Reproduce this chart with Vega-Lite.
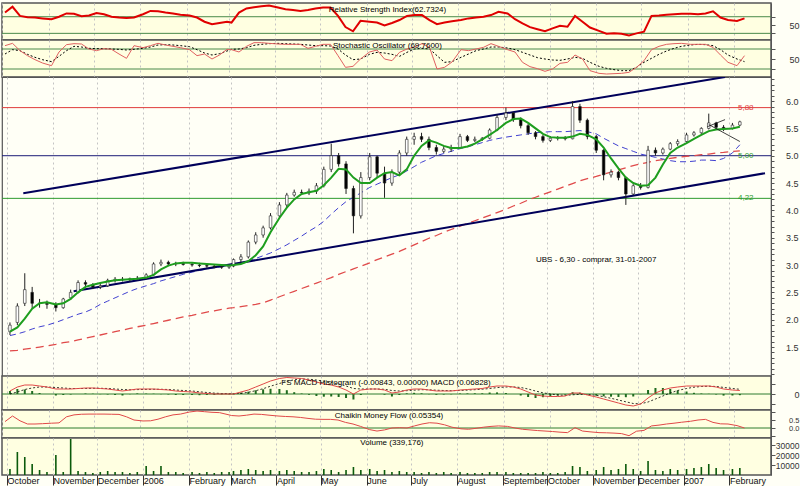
{
"$schema": "https://vega.github.io/schema/vega-lite/v6.json",
"padding": 0,
"background": "#FFFFF6",
"autosize": {"type": "pad"},
"spacing": 0,
"bounds": "flush",
"config": {
  "font": "Liberation Sans",
  "view": {"stroke": "#555555", "strokeWidth": 1.2},
  "axisX": {"grid": true, "gridColor": "#C4C4C4", "gridDash": [2, 3], "gridWidth": 1},
  "axisY": {"domainColor": "#555555", "tickColor": "#555555", "tickSize": 4, "labelAlign": "right", "labelPadding": 24, "labelFontSize": 9, "labelColor": "#333333", "labelFont": "Liberation Sans", "grid": false, "labelOverlap": false, "labelFlush": false, "labelBound": false},
  "text": {"font": "Liberation Sans"}
},
"datasets": {
"px": [
{"date":"2005-10-03","open":1.78,"high":1.95,"low":1.72,"close":1.9,"vol":6000,"ma20":1.78,"ma50":1.71,"ma200":1.43,"rsi":80,"stochK":90,"stochD":65,"macd":0.03,"signal":0,"hist":0.03,"cmf":0.4},
{"date":"2005-10-08","open":1.95,"high":2.3,"low":1.9,"close":2.25,"vol":23000,"ma20":1.86,"ma50":1.74,"ma200":1.44,"rsi":94,"stochK":97,"stochD":78,"macd":0.07,"signal":0.02,"hist":0.05,"cmf":0.75},
{"date":"2005-10-13","open":2.3,"high":2.85,"low":2.25,"close":2.55,"vol":18000,"ma20":2.02,"ma50":1.78,"ma200":1.46,"rsi":72,"stochK":75,"stochD":75,"macd":0.09,"signal":0.045,"hist":0.045,"cmf":0.45},
{"date":"2005-10-18","open":2.5,"high":2.6,"low":2.2,"close":2.3,"vol":11000,"ma20":2.2,"ma50":1.83,"ma200":1.48,"rsi":69,"stochK":60,"stochD":64,"macd":0.09,"signal":0.06,"hist":0.03,"cmf":0.25},
{"date":"2005-10-23","open":2.3,"high":2.38,"low":2.22,"close":2.3,"vol":5000,"ma20":2.3,"ma50":1.87,"ma200":1.5,"rsi":68,"stochK":48,"stochD":55,"macd":0.08,"signal":0.07,"hist":0.01,"cmf":0.25},
{"date":"2005-10-28","open":2.3,"high":2.35,"low":2.2,"close":2.28,"vol":3000,"ma20":2.32,"ma50":1.9,"ma200":1.52,"rsi":66,"stochK":38,"stochD":48,"macd":0.07,"signal":0.07,"hist":0,"cmf":0.27},
{"date":"2005-11-03","open":2.28,"high":2.32,"low":2.15,"close":2.22,"vol":20000,"ma20":2.28,"ma50":1.95,"ma200":1.55,"rsi":64,"stochK":30,"stochD":42,"macd":0.05,"signal":0.065,"hist":-0.015,"cmf":0.3},
{"date":"2005-11-08","open":2.22,"high":2.4,"low":2.2,"close":2.38,"vol":3000,"ma20":2.3,"ma50":2.0,"ma200":1.58,"rsi":70,"stochK":71,"stochD":58,"macd":0.05,"signal":0.06,"hist":-0.01,"cmf":0.32},
{"date":"2005-11-13","open":2.4,"high":2.55,"low":2.36,"close":2.5,"vol":36000,"ma20":2.38,"ma50":2.05,"ma200":1.6,"rsi":78,"stochK":93,"stochD":75,"macd":0.05,"signal":0.055,"hist":-0.005,"cmf":0.7},
{"date":"2005-11-18","open":2.5,"high":2.72,"low":2.48,"close":2.68,"vol":4000,"ma20":2.5,"ma50":2.1,"ma200":1.63,"rsi":77,"stochK":96,"stochD":88,"macd":0.055,"signal":0.055,"hist":0,"cmf":0.82},
{"date":"2005-11-23","open":2.68,"high":2.72,"low":2.6,"close":2.65,"vol":3000,"ma20":2.6,"ma50":2.14,"ma200":1.66,"rsi":71,"stochK":95,"stochD":86,"macd":0.06,"signal":0.055,"hist":0.005,"cmf":0.86},
{"date":"2005-11-28","open":2.64,"high":2.67,"low":2.56,"close":2.6,"vol":2000,"ma20":2.64,"ma50":2.2,"ma200":1.69,"rsi":73,"stochK":80,"stochD":82,"macd":0.06,"signal":0.057,"hist":0.003,"cmf":0.87},
{"date":"2005-12-03","open":2.6,"high":2.66,"low":2.56,"close":2.62,"vol":3000,"ma20":2.67,"ma50":2.28,"ma200":1.72,"rsi":79,"stochK":75,"stochD":81,"macd":0.055,"signal":0.057,"hist":-0.002,"cmf":0.87},
{"date":"2005-12-08","open":2.62,"high":2.75,"low":2.6,"close":2.72,"vol":4000,"ma20":2.7,"ma50":2.34,"ma200":1.75,"rsi":76,"stochK":81,"stochD":81,"macd":0.05,"signal":0.055,"hist":-0.005,"cmf":0.87},
{"date":"2005-12-13","open":2.72,"high":2.78,"low":2.68,"close":2.74,"vol":3000,"ma20":2.72,"ma50":2.4,"ma200":1.78,"rsi":70,"stochK":79,"stochD":80,"macd":0.04,"signal":0.05,"hist":-0.01,"cmf":0.86},
{"date":"2005-12-18","open":2.74,"high":2.78,"low":2.7,"close":2.73,"vol":3000,"ma20":2.73,"ma50":2.46,"ma200":1.81,"rsi":68,"stochK":65,"stochD":79,"macd":0.03,"signal":0.045,"hist":-0.015,"cmf":0.85},
{"date":"2005-12-23","open":2.73,"high":2.77,"low":2.7,"close":2.75,"vol":2000,"ma20":2.74,"ma50":2.52,"ma200":1.84,"rsi":67,"stochK":52,"stochD":77,"macd":0.04,"signal":0.042,"hist":-0.002,"cmf":0.7},
{"date":"2005-12-28","open":2.75,"high":2.8,"low":2.72,"close":2.76,"vol":3000,"ma20":2.75,"ma50":2.57,"ma200":1.87,"rsi":68,"stochK":90,"stochD":79,"macd":0.05,"signal":0.044,"hist":0.006,"cmf":0.5},
{"date":"2006-01-03","open":2.76,"high":2.85,"low":2.74,"close":2.82,"vol":9000,"ma20":2.77,"ma50":2.62,"ma200":1.9,"rsi":76,"stochK":84,"stochD":82,"macd":0.05,"signal":0.046,"hist":0.004,"cmf":0.44},
{"date":"2006-01-08","open":2.82,"high":3.05,"low":2.8,"close":3.02,"vol":4000,"ma20":2.82,"ma50":2.66,"ma200":1.93,"rsi":84,"stochK":90,"stochD":86,"macd":0.05,"signal":0.047,"hist":0.003,"cmf":0.45},
{"date":"2006-01-13","open":3.02,"high":3.1,"low":2.98,"close":3.05,"vol":9000,"ma20":2.92,"ma50":2.71,"ma200":1.96,"rsi":83,"stochK":97,"stochD":92,"macd":0.045,"signal":0.047,"hist":-0.002,"cmf":0.55},
{"date":"2006-01-18","open":3.05,"high":3.08,"low":2.98,"close":3.02,"vol":3000,"ma20":2.99,"ma50":2.75,"ma200":1.99,"rsi":80,"stochK":92,"stochD":93,"macd":0.04,"signal":0.045,"hist":-0.005,"cmf":0.7},
{"date":"2006-01-23","open":3.02,"high":3.06,"low":2.98,"close":3.03,"vol":3000,"ma20":3.03,"ma50":2.79,"ma200":2.02,"rsi":78,"stochK":88,"stochD":92,"macd":0.03,"signal":0.04,"hist":-0.01,"cmf":0.82},
{"date":"2006-01-28","open":3.03,"high":3.06,"low":2.99,"close":3.01,"vol":2000,"ma20":3.04,"ma50":2.83,"ma200":2.05,"rsi":75,"stochK":84,"stochD":90,"macd":0.025,"signal":0.035,"hist":-0.01,"cmf":0.87},
{"date":"2006-02-03","open":3.01,"high":3.05,"low":2.97,"close":3.0,"vol":3000,"ma20":3.04,"ma50":2.87,"ma200":2.08,"rsi":73,"stochK":78,"stochD":87,"macd":0.02,"signal":0.03,"hist":-0.01,"cmf":1.0},
{"date":"2006-02-08","open":3.0,"high":3.04,"low":2.96,"close":2.99,"vol":2000,"ma20":3.03,"ma50":2.9,"ma200":2.11,"rsi":68,"stochK":60,"stochD":78,"macd":0.01,"signal":0.022,"hist":-0.012,"cmf":1.06},
{"date":"2006-02-13","open":2.99,"high":3.02,"low":2.95,"close":2.98,"vol":3000,"ma20":3.02,"ma50":2.93,"ma200":2.14,"rsi":58,"stochK":65,"stochD":68,"macd":0.005,"signal":0.015,"hist":-0.01,"cmf":1.02},
{"date":"2006-02-18","open":2.98,"high":3.01,"low":2.94,"close":2.97,"vol":2000,"ma20":3.01,"ma50":2.95,"ma200":2.16,"rsi":52,"stochK":50,"stochD":62,"macd":0,"signal":0.009,"hist":-0.009,"cmf":0.98},
{"date":"2006-02-23","open":2.97,"high":3.0,"low":2.93,"close":2.96,"vol":3000,"ma20":3.0,"ma50":2.97,"ma200":2.19,"rsi":55,"stochK":62,"stochD":66,"macd":0,"signal":0.005,"hist":-0.005,"cmf":0.96},
{"date":"2006-02-28","open":2.96,"high":3.0,"low":2.93,"close":2.98,"vol":3000,"ma20":2.99,"ma50":2.99,"ma200":2.21,"rsi":58,"stochK":79,"stochD":74,"macd":0,"signal":0.003,"hist":-0.003,"cmf":0.85},
{"date":"2006-03-03","open":2.98,"high":3.12,"low":2.96,"close":3.1,"vol":4000,"ma20":3.0,"ma50":3.0,"ma200":2.22,"rsi":56,"stochK":78,"stochD":79,"macd":0,"signal":0.002,"hist":-0.002,"cmf":0.78},
{"date":"2006-03-08","open":3.1,"high":3.2,"low":3.05,"close":3.15,"vol":5000,"ma20":3.02,"ma50":3.03,"ma200":2.24,"rsi":80,"stochK":71,"stochD":80,"macd":0.02,"signal":0.007,"hist":0.013,"cmf":0.75},
{"date":"2006-03-13","open":3.15,"high":3.45,"low":3.12,"close":3.42,"vol":6000,"ma20":3.07,"ma50":3.07,"ma200":2.26,"rsi":90,"stochK":88,"stochD":84,"macd":0.04,"signal":0.017,"hist":0.023,"cmf":0.8},
{"date":"2006-03-18","open":3.42,"high":3.6,"low":3.38,"close":3.55,"vol":5000,"ma20":3.18,"ma50":3.12,"ma200":2.28,"rsi":93,"stochK":99,"stochD":91,"macd":0.07,"signal":0.033,"hist":0.037,"cmf":0.87},
{"date":"2006-03-23","open":3.55,"high":3.72,"low":3.5,"close":3.68,"vol":4000,"ma20":3.34,"ma50":3.17,"ma200":2.31,"rsi":95,"stochK":99,"stochD":94,"macd":0.1,"signal":0.053,"hist":0.047,"cmf":0.85},
{"date":"2006-03-28","open":3.68,"high":3.95,"low":3.65,"close":3.9,"vol":5000,"ma20":3.6,"ma50":3.22,"ma200":2.36,"rsi":97,"stochK":97,"stochD":96,"macd":0.13,"signal":0.078,"hist":0.052,"cmf":0.8},
{"date":"2006-04-03","open":3.9,"high":4.15,"low":3.85,"close":4.1,"vol":4000,"ma20":3.86,"ma50":3.3,"ma200":2.42,"rsi":92,"stochK":95,"stochD":97,"macd":0.155,"signal":0.105,"hist":0.05,"cmf":0.75},
{"date":"2006-04-08","open":4.1,"high":4.32,"low":4.05,"close":4.28,"vol":5000,"ma20":4.05,"ma50":3.37,"ma200":2.47,"rsi":88,"stochK":94,"stochD":96,"macd":0.165,"signal":0.127,"hist":0.038,"cmf":0.72},
{"date":"2006-04-13","open":4.28,"high":4.38,"low":4.25,"close":4.33,"vol":4000,"ma20":4.2,"ma50":3.45,"ma200":2.52,"rsi":86,"stochK":94,"stochD":95,"macd":0.16,"signal":0.142,"hist":0.018,"cmf":0.7},
{"date":"2006-04-18","open":4.33,"high":4.38,"low":4.28,"close":4.32,"vol":3000,"ma20":4.3,"ma50":3.53,"ma200":2.57,"rsi":84,"stochK":94,"stochD":94,"macd":0.155,"signal":0.15,"hist":0.005,"cmf":0.66},
{"date":"2006-04-23","open":4.32,"high":4.4,"low":4.28,"close":4.35,"vol":3000,"ma20":4.33,"ma50":3.62,"ma200":2.62,"rsi":86,"stochK":82,"stochD":92,"macd":0.14,"signal":0.148,"hist":-0.008,"cmf":0.6},
{"date":"2006-04-28","open":4.35,"high":4.5,"low":4.3,"close":4.45,"vol":4000,"ma20":4.36,"ma50":3.7,"ma200":2.67,"rsi":90,"stochK":88,"stochD":90,"macd":0.12,"signal":0.14,"hist":-0.02,"cmf":0.55},
{"date":"2006-05-03","open":4.45,"high":4.8,"low":4.42,"close":4.75,"vol":6000,"ma20":4.46,"ma50":3.8,"ma200":2.72,"rsi":92,"stochK":94,"stochD":90,"macd":0.1,"signal":0.127,"hist":-0.027,"cmf":0.54},
{"date":"2006-05-08","open":4.75,"high":5.22,"low":4.7,"close":5.0,"vol":5000,"ma20":4.6,"ma50":3.93,"ma200":2.77,"rsi":92,"stochK":94,"stochD":89,"macd":0.09,"signal":0.115,"hist":-0.025,"cmf":0.54},
{"date":"2006-05-13","open":5.0,"high":5.05,"low":4.8,"close":4.85,"vol":3000,"ma20":4.76,"ma50":4.05,"ma200":2.83,"rsi":72,"stochK":60,"stochD":80,"macd":0.07,"signal":0.1,"hist":-0.03,"cmf":0.5},
{"date":"2006-05-18","open":4.85,"high":4.9,"low":4.3,"close":4.4,"vol":5000,"ma20":4.75,"ma50":4.16,"ma200":2.88,"rsi":45,"stochK":25,"stochD":62,"macd":0.04,"signal":0.08,"hist":-0.04,"cmf":0.35},
{"date":"2006-05-23","open":4.4,"high":4.45,"low":3.58,"close":3.9,"vol":8000,"ma20":4.6,"ma50":4.24,"ma200":2.93,"rsi":35,"stochK":28,"stochD":48,"macd":0,"signal":0.055,"hist":-0.055,"cmf":0.25},
{"date":"2006-05-28","open":3.9,"high":4.7,"low":3.85,"close":4.6,"vol":5000,"ma20":4.5,"ma50":4.32,"ma200":2.98,"rsi":60,"stochK":50,"stochD":50,"macd":0.04,"signal":0.05,"hist":-0.01,"cmf":0.1},
{"date":"2006-06-03","open":4.6,"high":5.05,"low":4.55,"close":4.98,"vol":6000,"ma20":4.5,"ma50":4.42,"ma200":3.04,"rsi":58,"stochK":71,"stochD":64,"macd":0.05,"signal":0.05,"hist":0,"cmf":-0.1},
{"date":"2006-06-08","open":4.98,"high":5.0,"low":4.6,"close":4.68,"vol":4000,"ma20":4.6,"ma50":4.48,"ma200":3.1,"rsi":56,"stochK":77,"stochD":70,"macd":0.05,"signal":0.05,"hist":0,"cmf":-0.19},
{"date":"2006-06-13","open":4.68,"high":4.8,"low":4.23,"close":4.5,"vol":5000,"ma20":4.68,"ma50":4.54,"ma200":3.15,"rsi":49,"stochK":50,"stochD":68,"macd":0.04,"signal":0.047,"hist":-0.007,"cmf":-0.12},
{"date":"2006-06-18","open":4.5,"high":4.75,"low":4.45,"close":4.7,"vol":3000,"ma20":4.7,"ma50":4.6,"ma200":3.2,"rsi":55,"stochK":45,"stochD":64,"macd":0.01,"signal":0.035,"hist":-0.025,"cmf":0},
{"date":"2006-06-23","open":4.7,"high":5.1,"low":4.65,"close":5.05,"vol":4000,"ma20":4.64,"ma50":4.65,"ma200":3.25,"rsi":62,"stochK":70,"stochD":58,"macd":0.02,"signal":0.03,"hist":-0.01,"cmf":0.02},
{"date":"2006-06-28","open":5.05,"high":5.35,"low":5.0,"close":5.3,"vol":3000,"ma20":4.75,"ma50":4.72,"ma200":3.31,"rsi":72,"stochK":80,"stochD":70,"macd":0.04,"signal":0.033,"hist":0.007,"cmf":0},
{"date":"2006-07-03","open":5.3,"high":5.42,"low":5.2,"close":5.35,"vol":3000,"ma20":5.0,"ma50":4.8,"ma200":3.37,"rsi":74,"stochK":86,"stochD":80,"macd":0.05,"signal":0.038,"hist":0.012,"cmf":0.13},
{"date":"2006-07-08","open":5.35,"high":5.42,"low":5.25,"close":5.3,"vol":2000,"ma20":5.18,"ma50":4.88,"ma200":3.43,"rsi":74,"stochK":96,"stochD":82,"macd":0.05,"signal":0.043,"hist":0.007,"cmf":0.25},
{"date":"2006-07-13","open":5.3,"high":5.35,"low":5.1,"close":5.15,"vol":3000,"ma20":5.28,"ma50":4.94,"ma200":3.49,"rsi":62,"stochK":85,"stochD":80,"macd":0.04,"signal":0.042,"hist":-0.002,"cmf":0.33},
{"date":"2006-07-18","open":5.15,"high":5.2,"low":5.02,"close":5.08,"vol":2000,"ma20":5.24,"ma50":5.0,"ma200":3.54,"rsi":52,"stochK":20,"stochD":60,"macd":0.03,"signal":0.038,"hist":-0.008,"cmf":0.3},
{"date":"2006-07-23","open":5.08,"high":5.18,"low":5.05,"close":5.12,"vol":3000,"ma20":5.18,"ma50":5.04,"ma200":3.6,"rsi":56,"stochK":25,"stochD":40,"macd":0.03,"signal":0.035,"hist":-0.005,"cmf":0.2},
{"date":"2006-07-28","open":5.12,"high":5.2,"low":5.07,"close":5.15,"vol":2000,"ma20":5.14,"ma50":5.08,"ma200":3.65,"rsi":59,"stochK":41,"stochD":42,"macd":0.03,"signal":0.033,"hist":-0.003,"cmf":0.05},
{"date":"2006-08-03","open":5.15,"high":5.4,"low":5.12,"close":5.35,"vol":3000,"ma20":5.14,"ma50":5.13,"ma200":3.71,"rsi":62,"stochK":78,"stochD":55,"macd":0.04,"signal":0.035,"hist":0.005,"cmf":-0.05},
{"date":"2006-08-08","open":5.35,"high":5.38,"low":5.25,"close":5.28,"vol":2000,"ma20":5.17,"ma50":5.16,"ma200":3.76,"rsi":66,"stochK":75,"stochD":65,"macd":0.045,"signal":0.039,"hist":0.006,"cmf":-0.08},
{"date":"2006-08-13","open":5.28,"high":5.35,"low":5.25,"close":5.3,"vol":2000,"ma20":5.22,"ma50":5.2,"ma200":3.81,"rsi":68,"stochK":80,"stochD":75,"macd":0.05,"signal":0.043,"hist":0.007,"cmf":-0.02},
{"date":"2006-08-18","open":5.3,"high":5.34,"low":5.27,"close":5.32,"vol":2000,"ma20":5.3,"ma50":5.24,"ma200":3.86,"rsi":70,"stochK":85,"stochD":80,"macd":0.055,"signal":0.048,"hist":0.007,"cmf":0.05},
{"date":"2006-08-23","open":5.32,"high":5.5,"low":5.3,"close":5.47,"vol":3000,"ma20":5.38,"ma50":5.28,"ma200":3.91,"rsi":74,"stochK":96,"stochD":86,"macd":0.07,"signal":0.055,"hist":0.015,"cmf":0.1},
{"date":"2006-08-28","open":5.47,"high":5.75,"low":5.45,"close":5.7,"vol":3000,"ma20":5.47,"ma50":5.31,"ma200":3.96,"rsi":82,"stochK":88,"stochD":86,"macd":0.08,"signal":0.064,"hist":0.016,"cmf":0.13},
{"date":"2006-09-03","open":5.7,"high":5.88,"low":5.65,"close":5.78,"vol":3000,"ma20":5.6,"ma50":5.34,"ma200":4.02,"rsi":78,"stochK":78,"stochD":83,"macd":0.08,"signal":0.07,"hist":0.01,"cmf":0.1},
{"date":"2006-09-08","open":5.78,"high":5.8,"low":5.62,"close":5.66,"vol":2000,"ma20":5.67,"ma50":5.36,"ma200":4.08,"rsi":64,"stochK":71,"stochD":78,"macd":0.07,"signal":0.071,"hist":-0.001,"cmf":0},
{"date":"2006-09-13","open":5.66,"high":5.7,"low":5.5,"close":5.55,"vol":2000,"ma20":5.68,"ma50":5.38,"ma200":4.13,"rsi":54,"stochK":40,"stochD":70,"macd":0.05,"signal":0.065,"hist":-0.015,"cmf":-0.08},
{"date":"2006-09-18","open":5.55,"high":5.58,"low":5.38,"close":5.42,"vol":2000,"ma20":5.6,"ma50":5.4,"ma200":4.19,"rsi":45,"stochK":27,"stochD":62,"macd":0.02,"signal":0.05,"hist":-0.03,"cmf":-0.12},
{"date":"2006-09-23","open":5.42,"high":5.45,"low":5.3,"close":5.35,"vol":2000,"ma20":5.5,"ma50":5.42,"ma200":4.24,"rsi":40,"stochK":21,"stochD":54,"macd":-0.01,"signal":0.03,"hist":-0.04,"cmf":-0.16},
{"date":"2006-09-28","open":5.35,"high":5.38,"low":5.24,"close":5.28,"vol":3000,"ma20":5.4,"ma50":5.43,"ma200":4.29,"rsi":35,"stochK":13,"stochD":50,"macd":-0.02,"signal":0.012,"hist":-0.032,"cmf":-0.19},
{"date":"2006-10-03","open":5.28,"high":5.36,"low":5.25,"close":5.32,"vol":2000,"ma20":5.34,"ma50":5.44,"ma200":4.34,"rsi":42,"stochK":20,"stochD":47,"macd":-0.025,"signal":0,"hist":-0.025,"cmf":-0.22},
{"date":"2006-10-08","open":5.32,"high":5.36,"low":5.28,"close":5.33,"vol":2000,"ma20":5.33,"ma50":5.44,"ma200":4.39,"rsi":48,"stochK":37,"stochD":46,"macd":-0.025,"signal":-0.01,"hist":-0.015,"cmf":-0.26},
{"date":"2006-10-13","open":5.33,"high":5.36,"low":5.28,"close":5.31,"vol":3000,"ma20":5.33,"ma50":5.44,"ma200":4.44,"rsi":46,"stochK":40,"stochD":50,"macd":-0.02,"signal":-0.014,"hist":-0.006,"cmf":-0.29},
{"date":"2006-10-18","open":5.31,"high":6.0,"low":5.3,"close":5.9,"vol":9000,"ma20":5.35,"ma50":5.45,"ma200":4.49,"rsi":72,"stochK":62,"stochD":55,"macd":0.01,"signal":-0.008,"hist":0.018,"cmf":0.02},
{"date":"2006-10-23","open":5.9,"high":5.95,"low":5.6,"close":5.65,"vol":8000,"ma20":5.4,"ma50":5.46,"ma200":4.54,"rsi":58,"stochK":50,"stochD":52,"macd":0.01,"signal":-0.003,"hist":0.013,"cmf":-0.19},
{"date":"2006-10-28","open":5.65,"high":5.68,"low":5.3,"close":5.35,"vol":4000,"ma20":5.38,"ma50":5.44,"ma200":4.58,"rsi":44,"stochK":15,"stochD":40,"macd":-0.01,"signal":-0.005,"hist":-0.005,"cmf":-0.24},
{"date":"2006-11-03","open":5.35,"high":5.38,"low":5.05,"close":5.1,"vol":5000,"ma20":5.3,"ma50":5.4,"ma200":4.62,"rsi":36,"stochK":7,"stochD":28,"macd":-0.03,"signal":-0.013,"hist":-0.017,"cmf":-0.29},
{"date":"2006-11-08","open":5.1,"high":5.12,"low":4.55,"close":4.65,"vol":8000,"ma20":5.15,"ma50":5.32,"ma200":4.66,"rsi":29,"stochK":5,"stochD":22,"macd":-0.05,"signal":-0.027,"hist":-0.023,"cmf":-0.3},
{"date":"2006-11-13","open":4.65,"high":4.75,"low":4.6,"close":4.7,"vol":5000,"ma20":4.95,"ma50":5.25,"ma200":4.7,"rsi":30,"stochK":6,"stochD":18,"macd":-0.07,"signal":-0.043,"hist":-0.027,"cmf":-0.32},
{"date":"2006-11-18","open":4.7,"high":4.72,"low":4.55,"close":4.6,"vol":6000,"ma20":4.77,"ma50":5.18,"ma200":4.74,"rsi":29,"stochK":7,"stochD":15,"macd":-0.09,"signal":-0.06,"hist":-0.03,"cmf":-0.35},
{"date":"2006-11-23","open":4.6,"high":4.62,"low":4.1,"close":4.3,"vol":11000,"ma20":4.6,"ma50":5.13,"ma200":4.78,"rsi":25,"stochK":10,"stochD":15,"macd":-0.11,"signal":-0.078,"hist":-0.032,"cmf":-0.48},
{"date":"2006-11-28","open":4.3,"high":4.48,"low":4.28,"close":4.45,"vol":6000,"ma20":4.5,"ma50":5.08,"ma200":4.82,"rsi":30,"stochK":25,"stochD":25,"macd":-0.12,"signal":-0.095,"hist":-0.025,"cmf":-0.2},
{"date":"2006-12-03","open":4.45,"high":4.5,"low":4.38,"close":4.42,"vol":4000,"ma20":4.45,"ma50":5.03,"ma200":4.85,"rsi":34,"stochK":45,"stochD":40,"macd":-0.1,"signal":-0.098,"hist":-0.002,"cmf":-0.15},
{"date":"2006-12-08","open":4.42,"high":5.18,"low":4.4,"close":5.1,"vol":14000,"ma20":4.46,"ma50":5.0,"ma200":4.88,"rsi":72,"stochK":78,"stochD":52,"macd":-0.04,"signal":-0.08,"hist":0.04,"cmf":0.13},
{"date":"2006-12-13","open":5.1,"high":5.15,"low":5.0,"close":5.05,"vol":5000,"ma20":4.6,"ma50":4.97,"ma200":4.91,"rsi":73,"stochK":88,"stochD":64,"macd":0.01,"signal":-0.05,"hist":0.06,"cmf":0.18},
{"date":"2006-12-18","open":5.05,"high":5.15,"low":5.02,"close":5.12,"vol":4000,"ma20":4.84,"ma50":4.94,"ma200":4.93,"rsi":75,"stochK":94,"stochD":74,"macd":0.04,"signal":-0.02,"hist":0.06,"cmf":0.25},
{"date":"2006-12-23","open":5.12,"high":5.25,"low":5.1,"close":5.22,"vol":6000,"ma20":5.05,"ma50":4.91,"ma200":4.95,"rsi":76,"stochK":96,"stochD":82,"macd":0.06,"signal":0.01,"hist":0.05,"cmf":0.3},
{"date":"2006-12-28","open":5.22,"high":5.3,"low":5.18,"close":5.26,"vol":5000,"ma20":5.15,"ma50":4.89,"ma200":4.97,"rsi":77,"stochK":97,"stochD":88,"macd":0.07,"signal":0.035,"hist":0.035,"cmf":0.36},
{"date":"2007-01-03","open":5.26,"high":5.42,"low":5.24,"close":5.38,"vol":6000,"ma20":5.23,"ma50":4.89,"ma200":4.99,"rsi":77,"stochK":94,"stochD":92,"macd":0.08,"signal":0.055,"hist":0.025,"cmf":0.42},
{"date":"2007-01-08","open":5.38,"high":5.45,"low":5.35,"close":5.42,"vol":7000,"ma20":5.31,"ma50":4.9,"ma200":5.0,"rsi":76,"stochK":94,"stochD":94,"macd":0.08,"signal":0.068,"hist":0.012,"cmf":0.5},
{"date":"2007-01-13","open":5.42,"high":5.52,"low":5.4,"close":5.5,"vol":8000,"ma20":5.38,"ma50":4.92,"ma200":5.02,"rsi":78,"stochK":94,"stochD":93,"macd":0.08,"signal":0.075,"hist":0.005,"cmf":0.54},
{"date":"2007-01-18","open":5.5,"high":5.77,"low":5.48,"close":5.6,"vol":11000,"ma20":5.45,"ma50":4.92,"ma200":5.03,"rsi":83,"stochK":85,"stochD":90,"macd":0.08,"signal":0.078,"hist":0.002,"cmf":0.35},
{"date":"2007-01-23","open":5.6,"high":5.62,"low":5.48,"close":5.52,"vol":7000,"ma20":5.48,"ma50":4.91,"ma200":5.05,"rsi":68,"stochK":62,"stochD":78,"macd":0.07,"signal":0.075,"hist":-0.005,"cmf":0.26},
{"date":"2007-01-28","open":5.52,"high":5.56,"low":5.45,"close":5.5,"vol":5000,"ma20":5.49,"ma50":4.95,"ma200":5.06,"rsi":62,"stochK":40,"stochD":62,"macd":0.05,"signal":0.066,"hist":-0.016,"cmf":0.25},
{"date":"2007-02-03","open":5.5,"high":5.6,"low":5.48,"close":5.56,"vol":6000,"ma20":5.5,"ma50":5.05,"ma200":5.08,"rsi":60,"stochK":30,"stochD":50,"macd":0.04,"signal":0.055,"hist":-0.015,"cmf":0.15},
{"date":"2007-02-08","open":5.56,"high":5.64,"low":5.54,"close":5.62,"vol":7000,"ma20":5.53,"ma50":5.2,"ma200":5.09,"rsi":66,"stochK":60,"stochD":42,"macd":0.035,"signal":0.047,"hist":-0.012,"cmf":0}
],
"channel": [
{"line":"upper","date":"2005-10-12","price":4.315},
{"line":"upper","date":"2007-01-29","price":6.44},
{"line":"lower","date":"2005-11-15","price":2.52},
{"line":"lower","date":"2007-02-25","price":4.68}
],
"fan": [
{"line":"f1","date":"2007-01-17","price":5.53},
{"line":"f1","date":"2007-01-29","price":5.66},
{"line":"f2","date":"2007-01-18","price":5.57},
{"line":"f2","date":"2007-02-08","price":5.26}
]
},
"vconcat": [
{
 "width": 769, "height": 37,
 "view": {"fill": "#FFFFE1", "stroke": "#555555", "strokeWidth": 1.5},
 "layer": [
  {"data": {"values": [{"level": 70}, {"level": 30}]}, "mark": {"type": "rule", "color": "#4A8A4A", "strokeWidth": 1},
   "encoding": {"y": {"field": "level", "type": "quantitative", "scale": {"domain": [14, 103]}}}},
  {"data": {"name": "px"}, "mark": {"type": "line", "color": "#E00000", "strokeWidth": 2},
   "encoding": {
    "x": {"field": "date", "type": "temporal", "scale": {"type": "utc", "nice": false, "domain": [{"year": 2005, "month": 10, "date": 1, "utc": true}, {"year": 2007, "month": 2, "date": 25, "hours": 16, "utc": true}]},
          "axis": {"labels": false, "ticks": false, "domain": false, "title": null, "tickCount": 100,
                   "values": [{"year":2005,"month":10,"date":1,"utc":true},{"year":2005,"month":11,"date":1,"utc":true},{"year":2005,"month":12,"date":1,"utc":true},{"year":2006,"month":1,"date":1,"utc":true},{"year":2006,"month":2,"date":1,"utc":true},{"year":2006,"month":3,"date":1,"utc":true},{"year":2006,"month":4,"date":1,"utc":true},{"year":2006,"month":5,"date":1,"utc":true},{"year":2006,"month":6,"date":1,"utc":true},{"year":2006,"month":7,"date":1,"utc":true},{"year":2006,"month":8,"date":1,"utc":true},{"year":2006,"month":9,"date":1,"utc":true},{"year":2006,"month":10,"date":1,"utc":true},{"year":2006,"month":11,"date":1,"utc":true},{"year":2006,"month":12,"date":1,"utc":true},{"year":2007,"month":1,"date":1,"utc":true},{"year":2007,"month":2,"date":1,"utc":true}]}},
    "y": {"field": "rsi", "type": "quantitative", "scale": {"domain": [14, 103]},
          "axis": {"orient": "right", "title": null, "tickCount": 100, "labelOverlap": false, "values": [30, 50, 70], "labelExpr": "datum.value == 50 ? '50' : ''"}}}},
  {"data": {"values": [{"title": "Relative Strength Index(62.7324)"}]}, "mark": {"type": "text", "fontSize": 8, "color": "#000000"},
   "encoding": {"text": {"field": "title"},
    "x": {"datum": {"year": 2006, "month": 6, "date": 15, "utc": true}, "type": "temporal", "scale": {"type": "utc", "nice": false, "domain": [{"year": 2005, "month": 10, "date": 1, "utc": true}, {"year": 2007, "month": 2, "date": 25, "hours": 16, "utc": true}]}},
    "y": {"datum": 87, "type": "quantitative", "scale": {"domain": [14, 103]}}}}
 ]
},
{
 "width": 769, "height": 37,
 "view": {"fill": "#FFFFE1", "stroke": "#555555", "strokeWidth": 1.5},
 "layer": [
  {"data": {"values": [{"level": 80}, {"level": 20}]}, "mark": {"type": "rule", "color": "#4A8A4A", "strokeWidth": 1},
   "encoding": {"y": {"field": "level", "type": "quantitative", "scale": {"domain": [-4, 107]}}}},
  {"data": {"name": "px"}, "mark": {"type": "line", "color": "#000000", "strokeWidth": 1, "strokeDash": [2, 2]},
   "encoding": {
    "x": {"field": "date", "type": "temporal", "scale": {"type": "utc", "nice": false, "domain": [{"year": 2005, "month": 10, "date": 1, "utc": true}, {"year": 2007, "month": 2, "date": 25, "hours": 16, "utc": true}]},
          "axis": {"labels": false, "ticks": false, "domain": false, "title": null, "tickCount": 100,
                   "values": [{"year":2005,"month":10,"date":1,"utc":true},{"year":2005,"month":11,"date":1,"utc":true},{"year":2005,"month":12,"date":1,"utc":true},{"year":2006,"month":1,"date":1,"utc":true},{"year":2006,"month":2,"date":1,"utc":true},{"year":2006,"month":3,"date":1,"utc":true},{"year":2006,"month":4,"date":1,"utc":true},{"year":2006,"month":5,"date":1,"utc":true},{"year":2006,"month":6,"date":1,"utc":true},{"year":2006,"month":7,"date":1,"utc":true},{"year":2006,"month":8,"date":1,"utc":true},{"year":2006,"month":9,"date":1,"utc":true},{"year":2006,"month":10,"date":1,"utc":true},{"year":2006,"month":11,"date":1,"utc":true},{"year":2006,"month":12,"date":1,"utc":true},{"year":2007,"month":1,"date":1,"utc":true},{"year":2007,"month":2,"date":1,"utc":true}]}},
    "y": {"field": "stochD", "type": "quantitative", "scale": {"domain": [-4, 107]},
          "axis": {"orient": "right", "title": null, "tickCount": 100, "labelOverlap": false, "values": [20, 50, 80], "labelExpr": "datum.value == 50 ? '50' : ''"}}}},
  {"data": {"name": "px"}, "mark": {"type": "line", "color": "#E06060", "strokeWidth": 1},
   "encoding": {
    "x": {"field": "date", "type": "temporal", "scale": {"type": "utc", "nice": false, "domain": [{"year": 2005, "month": 10, "date": 1, "utc": true}, {"year": 2007, "month": 2, "date": 25, "hours": 16, "utc": true}]}},
    "y": {"field": "stochK", "type": "quantitative", "scale": {"domain": [-4, 107]}}}},
  {"data": {"values": [{"title": "Stochastic Oscillator (69.7600)"}]}, "mark": {"type": "text", "fontSize": 8, "color": "#000000"},
   "encoding": {"text": {"field": "title"},
    "x": {"datum": {"year": 2006, "month": 6, "date": 15, "utc": true}, "type": "temporal", "scale": {"type": "utc", "nice": false, "domain": [{"year": 2005, "month": 10, "date": 1, "utc": true}, {"year": 2007, "month": 2, "date": 25, "hours": 16, "utc": true}]}},
    "y": {"datum": 90, "type": "quantitative", "scale": {"domain": [-4, 107]}}}}
 ]
},
{
 "width": 769, "height": 299,
 "view": {"fill": "#FFFFF6", "stroke": "#555555", "strokeWidth": 1.2},
 "layer": [
  {"data": {"values": [{"level": 5.88, "label": "5,88"}]},
   "layer": [
    {"mark": {"type": "rule", "color": "#E03C3C", "strokeWidth": 1},
     "encoding": {"y": {"field": "level", "type": "quantitative", "scale": {"domain": [0.97, 6.44]}}}},
    {"mark": {"type": "text", "fontSize": 8, "color": "#E03C3C"},
     "encoding": {"text": {"field": "label"},
      "x": {"datum": {"year": 2007, "month": 2, "date": 12, "utc": true}, "type": "temporal", "scale": {"type": "utc", "nice": false, "domain": [{"year": 2005, "month": 10, "date": 1, "utc": true}, {"year": 2007, "month": 2, "date": 25, "hours": 16, "utc": true}]}},
      "y": {"field": "level", "type": "quantitative", "scale": {"domain": [0.97, 6.44]}}}}
   ]},
  {"data": {"values": [{"level": 5.0, "label": "5,00"}]},
   "layer": [
    {"mark": {"type": "rule", "color": "#1C1C78", "strokeWidth": 1},
     "encoding": {"y": {"field": "level", "type": "quantitative", "scale": {"domain": [0.97, 6.44]}}}},
    {"mark": {"type": "text", "fontSize": 8, "color": "#2E9B2E"},
     "encoding": {"text": {"field": "label"},
      "x": {"datum": {"year": 2007, "month": 2, "date": 12, "utc": true}, "type": "temporal", "scale": {"type": "utc", "nice": false, "domain": [{"year": 2005, "month": 10, "date": 1, "utc": true}, {"year": 2007, "month": 2, "date": 25, "hours": 16, "utc": true}]}},
      "y": {"field": "level", "type": "quantitative", "scale": {"domain": [0.97, 6.44]}}}}
   ]},
  {"data": {"values": [{"level": 4.22, "label": "4,22"}]},
   "layer": [
    {"mark": {"type": "rule", "color": "#2E9B2E", "strokeWidth": 1},
     "encoding": {"y": {"field": "level", "type": "quantitative", "scale": {"domain": [0.97, 6.44]}}}},
    {"mark": {"type": "text", "fontSize": 8, "color": "#2E9B2E"},
     "encoding": {"text": {"field": "label"},
      "x": {"datum": {"year": 2007, "month": 2, "date": 12, "utc": true}, "type": "temporal", "scale": {"type": "utc", "nice": false, "domain": [{"year": 2005, "month": 10, "date": 1, "utc": true}, {"year": 2007, "month": 2, "date": 25, "hours": 16, "utc": true}]}},
      "y": {"field": "level", "type": "quantitative", "scale": {"domain": [0.97, 6.44]}}}}
   ]},
  {"data": {"name": "px"}, "mark": {"type": "line", "color": "#E04A4A", "strokeWidth": 1.3, "strokeDash": [8, 5]},
   "encoding": {
    "x": {"field": "date", "type": "temporal", "scale": {"type": "utc", "nice": false, "domain": [{"year": 2005, "month": 10, "date": 1, "utc": true}, {"year": 2007, "month": 2, "date": 25, "hours": 16, "utc": true}]},
          "axis": {"labels": false, "ticks": false, "domain": false, "title": null, "tickCount": 100,
                   "values": [{"year":2005,"month":10,"date":1,"utc":true},{"year":2005,"month":11,"date":1,"utc":true},{"year":2005,"month":12,"date":1,"utc":true},{"year":2006,"month":1,"date":1,"utc":true},{"year":2006,"month":2,"date":1,"utc":true},{"year":2006,"month":3,"date":1,"utc":true},{"year":2006,"month":4,"date":1,"utc":true},{"year":2006,"month":5,"date":1,"utc":true},{"year":2006,"month":6,"date":1,"utc":true},{"year":2006,"month":7,"date":1,"utc":true},{"year":2006,"month":8,"date":1,"utc":true},{"year":2006,"month":9,"date":1,"utc":true},{"year":2006,"month":10,"date":1,"utc":true},{"year":2006,"month":11,"date":1,"utc":true},{"year":2006,"month":12,"date":1,"utc":true},{"year":2007,"month":1,"date":1,"utc":true},{"year":2007,"month":2,"date":1,"utc":true}]}},
    "y": {"field": "ma200", "type": "quantitative", "scale": {"domain": [0.97, 6.44]},
          "axis": {"orient": "right", "title": null, "tickSize": 3, "tickCount": 100, "labelOverlap": false,
                   "values": [1.0,1.1,1.2,1.3,1.4,1.5,1.6,1.7,1.8,1.9,2.0,2.1,2.2,2.3,2.4,2.5,2.6,2.7,2.8,2.9,3.0,3.1,3.2,3.3,3.4,3.5,3.6,3.7,3.8,3.9,4.0,4.1,4.2,4.3,4.4,4.5,4.6,4.7,4.8,4.9,5.0,5.1,5.2,5.3,5.4,5.5,5.6,5.7,5.8,5.9,6.0,6.1,6.2,6.3,6.4],
                   "labelExpr": "(abs(datum.value*2 - round(datum.value*2)) < 0.01 && datum.value >= 1.5) ? format(datum.value, '.1f') : ''"}}}},
  {"data": {"name": "px"}, "mark": {"type": "line", "color": "#4040D0", "strokeWidth": 1, "strokeDash": [6, 4]},
   "encoding": {
    "x": {"field": "date", "type": "temporal", "scale": {"type": "utc", "nice": false, "domain": [{"year": 2005, "month": 10, "date": 1, "utc": true}, {"year": 2007, "month": 2, "date": 25, "hours": 16, "utc": true}]}},
    "y": {"field": "ma50", "type": "quantitative", "scale": {"domain": [0.97, 6.44]}}}},
  {"data": {"name": "channel"}, "mark": {"type": "line", "color": "#00005A", "strokeWidth": 2, "clip": true},
   "encoding": {
    "x": {"field": "date", "type": "temporal", "scale": {"type": "utc", "nice": false, "domain": [{"year": 2005, "month": 10, "date": 1, "utc": true}, {"year": 2007, "month": 2, "date": 25, "hours": 16, "utc": true}]}},
    "y": {"field": "price", "type": "quantitative", "scale": {"domain": [0.97, 6.44]}},
    "detail": {"field": "line", "type": "nominal"}}},
  {"data": {"name": "px"}, "mark": {"type": "rule", "color": "#222222", "strokeWidth": 1},
   "encoding": {
    "x": {"field": "date", "type": "temporal", "scale": {"type": "utc", "nice": false, "domain": [{"year": 2005, "month": 10, "date": 1, "utc": true}, {"year": 2007, "month": 2, "date": 25, "hours": 16, "utc": true}]}},
    "y": {"field": "low", "type": "quantitative", "scale": {"domain": [0.97, 6.44]}},
    "y2": {"field": "high"}}},
  {"data": {"name": "px"}, "mark": {"type": "bar", "size": 2.6, "stroke": "#222222", "strokeWidth": 0.6},
   "encoding": {
    "x": {"field": "date", "type": "temporal", "scale": {"type": "utc", "nice": false, "domain": [{"year": 2005, "month": 10, "date": 1, "utc": true}, {"year": 2007, "month": 2, "date": 25, "hours": 16, "utc": true}]}},
    "y": {"field": "open", "type": "quantitative", "scale": {"domain": [0.97, 6.44]}},
    "y2": {"field": "close"},
    "fill": {"condition": {"test": "datum.close >= datum.open", "value": "#FFFFFF"}, "value": "#000000"}}},
  {"data": {"name": "px"}, "mark": {"type": "line", "color": "#1E9E1E", "strokeWidth": 2},
   "encoding": {
    "x": {"field": "date", "type": "temporal", "scale": {"type": "utc", "nice": false, "domain": [{"year": 2005, "month": 10, "date": 1, "utc": true}, {"year": 2007, "month": 2, "date": 25, "hours": 16, "utc": true}]}},
    "y": {"field": "ma20", "type": "quantitative", "scale": {"domain": [0.97, 6.44]}}}},
  {"data": {"name": "fan"}, "mark": {"type": "line", "color": "#111111", "strokeWidth": 0.8},
   "encoding": {
    "x": {"field": "date", "type": "temporal", "scale": {"type": "utc", "nice": false, "domain": [{"year": 2005, "month": 10, "date": 1, "utc": true}, {"year": 2007, "month": 2, "date": 25, "hours": 16, "utc": true}]}},
    "y": {"field": "price", "type": "quantitative", "scale": {"domain": [0.97, 6.44]}},
    "detail": {"field": "line", "type": "nominal"}}},
  {"data": {"values": [{"note": "UBS - 6,30 - comprar, 31-01-2007"}]}, "mark": {"type": "text", "fontSize": 8, "color": "#000000"},
   "encoding": {"text": {"field": "note"},
    "x": {"datum": {"year": 2006, "month": 11, "date": 3, "utc": true}, "type": "temporal", "scale": {"type": "utc", "nice": false, "domain": [{"year": 2005, "month": 10, "date": 1, "utc": true}, {"year": 2007, "month": 2, "date": 25, "hours": 16, "utc": true}]}},
    "y": {"datum": 3.1, "type": "quantitative", "scale": {"domain": [0.97, 6.44]}}}}
 ]
},
{
 "width": 769, "height": 34,
 "view": {"fill": "#FFFFE1", "stroke": "#555555", "strokeWidth": 1.5},
 "layer": [
  {"data": {"values": [{"level": 0}]}, "mark": {"type": "rule", "color": "#2E7D2E", "strokeWidth": 1},
   "encoding": {"y": {"field": "level", "type": "quantitative", "scale": {"domain": [-0.16, 0.18]}}}},
  {"data": {"name": "px"}, "mark": {"type": "bar", "size": 2, "color": "#1F6B1F"},
   "encoding": {
    "x": {"field": "date", "type": "temporal", "scale": {"type": "utc", "nice": false, "domain": [{"year": 2005, "month": 10, "date": 1, "utc": true}, {"year": 2007, "month": 2, "date": 25, "hours": 16, "utc": true}]},
          "axis": {"labels": false, "ticks": false, "domain": false, "title": null, "tickCount": 100,
                   "values": [{"year":2005,"month":10,"date":1,"utc":true},{"year":2005,"month":11,"date":1,"utc":true},{"year":2005,"month":12,"date":1,"utc":true},{"year":2006,"month":1,"date":1,"utc":true},{"year":2006,"month":2,"date":1,"utc":true},{"year":2006,"month":3,"date":1,"utc":true},{"year":2006,"month":4,"date":1,"utc":true},{"year":2006,"month":5,"date":1,"utc":true},{"year":2006,"month":6,"date":1,"utc":true},{"year":2006,"month":7,"date":1,"utc":true},{"year":2006,"month":8,"date":1,"utc":true},{"year":2006,"month":9,"date":1,"utc":true},{"year":2006,"month":10,"date":1,"utc":true},{"year":2006,"month":11,"date":1,"utc":true},{"year":2006,"month":12,"date":1,"utc":true},{"year":2007,"month":1,"date":1,"utc":true},{"year":2007,"month":2,"date":1,"utc":true}]}},
    "y": {"field": "hist", "type": "quantitative", "scale": {"domain": [-0.16, 0.18]},
          "axis": {"orient": "right", "title": null, "tickCount": 100, "labelOverlap": false, "values": [-0.1, 0, 0.1], "labelExpr": "datum.value == 0 ? '0' : ''"}}}},
  {"data": {"name": "px"}, "mark": {"type": "line", "color": "#000000", "strokeWidth": 0.8, "strokeDash": [2, 2]},
   "encoding": {
    "x": {"field": "date", "type": "temporal", "scale": {"type": "utc", "nice": false, "domain": [{"year": 2005, "month": 10, "date": 1, "utc": true}, {"year": 2007, "month": 2, "date": 25, "hours": 16, "utc": true}]}},
    "y": {"field": "signal", "type": "quantitative", "scale": {"domain": [-0.16, 0.18]}}}},
  {"data": {"name": "px"}, "mark": {"type": "line", "color": "#E04848", "strokeWidth": 1},
   "encoding": {
    "x": {"field": "date", "type": "temporal", "scale": {"type": "utc", "nice": false, "domain": [{"year": 2005, "month": 10, "date": 1, "utc": true}, {"year": 2007, "month": 2, "date": 25, "hours": 16, "utc": true}]}},
    "y": {"field": "macd", "type": "quantitative", "scale": {"domain": [-0.16, 0.18]}}}},
  {"data": {"values": [{"title": "FS MACD Histogram (-0.00843, 0.00000) MACD (0.06828)"}]}, "mark": {"type": "text", "fontSize": 8, "color": "#000000"},
   "encoding": {"text": {"field": "title"},
    "x": {"datum": {"year": 2006, "month": 6, "date": 14, "utc": true}, "type": "temporal", "scale": {"type": "utc", "nice": false, "domain": [{"year": 2005, "month": 10, "date": 1, "utc": true}, {"year": 2007, "month": 2, "date": 25, "hours": 16, "utc": true}]}},
    "y": {"datum": 0.113, "type": "quantitative", "scale": {"domain": [-0.16, 0.18]}}}}
 ]
},
{
 "width": 769, "height": 28,
 "view": {"fill": "#FFFFE1", "stroke": "#555555", "strokeWidth": 1.5},
 "layer": [
  {"data": {"values": [{"level": 0}]}, "mark": {"type": "rule", "color": "#2E7D2E", "strokeWidth": 1},
   "encoding": {"y": {"field": "level", "type": "quantitative", "scale": {"domain": [-0.625, 1.125]}}}},
  {"data": {"name": "px"}, "mark": {"type": "line", "color": "#E04848", "strokeWidth": 1},
   "encoding": {
    "x": {"field": "date", "type": "temporal", "scale": {"type": "utc", "nice": false, "domain": [{"year": 2005, "month": 10, "date": 1, "utc": true}, {"year": 2007, "month": 2, "date": 25, "hours": 16, "utc": true}]},
          "axis": {"labels": false, "ticks": false, "domain": false, "title": null, "tickCount": 100,
                   "values": [{"year":2005,"month":10,"date":1,"utc":true},{"year":2005,"month":11,"date":1,"utc":true},{"year":2005,"month":12,"date":1,"utc":true},{"year":2006,"month":1,"date":1,"utc":true},{"year":2006,"month":2,"date":1,"utc":true},{"year":2006,"month":3,"date":1,"utc":true},{"year":2006,"month":4,"date":1,"utc":true},{"year":2006,"month":5,"date":1,"utc":true},{"year":2006,"month":6,"date":1,"utc":true},{"year":2006,"month":7,"date":1,"utc":true},{"year":2006,"month":8,"date":1,"utc":true},{"year":2006,"month":9,"date":1,"utc":true},{"year":2006,"month":10,"date":1,"utc":true},{"year":2006,"month":11,"date":1,"utc":true},{"year":2006,"month":12,"date":1,"utc":true},{"year":2007,"month":1,"date":1,"utc":true},{"year":2007,"month":2,"date":1,"utc":true}]}},
    "y": {"field": "cmf", "type": "quantitative", "scale": {"domain": [-0.625, 1.125]},
          "axis": {"orient": "right", "title": null, "tickCount": 100, "labelOverlap": false, "labelFontSize": 7.5, "values": [-0.5, 0, 0.5, 1.0], "labelExpr": "(datum.value == 0 || datum.value == 0.5) ? format(datum.value, '.1f') : ''"}}}},
  {"data": {"values": [{"title": "Chaikin Money Flow (0.05354)"}]}, "mark": {"type": "text", "fontSize": 8, "color": "#000000"},
   "encoding": {"text": {"field": "title"},
    "x": {"datum": {"year": 2006, "month": 6, "date": 16, "utc": true}, "type": "temporal", "scale": {"type": "utc", "nice": false, "domain": [{"year": 2005, "month": 10, "date": 1, "utc": true}, {"year": 2007, "month": 2, "date": 25, "hours": 16, "utc": true}]}},
    "y": {"datum": 0.75, "type": "quantitative", "scale": {"domain": [-0.625, 1.125]}}}}
 ]
},
{
 "width": 769, "height": 37,
 "view": {"fill": "#FFFFE1", "stroke": "#555555", "strokeWidth": 1.5},
 "layer": [
  {"data": {"name": "px"}, "mark": {"type": "bar", "size": 1.6, "color": "#0B5A0B"},
   "encoding": {
    "x": {"field": "date", "type": "temporal", "scale": {"type": "utc", "nice": false, "domain": [{"year": 2005, "month": 10, "date": 1, "utc": true}, {"year": 2007, "month": 2, "date": 25, "hours": 16, "utc": true}]},
          "axis": {"title": null, "domain": false, "ticks": true, "tickSize": 10, "tickColor": "#333333", "labelAlign": "left", "labelBaseline": "top", "labelPadding": -9, "labelDx": 2, "labelFontSize": 9, "labelColor": "#111111", "labelFont": "Liberation Sans", "labelFlush": false, "labelOverlap": false, "tickCount": 100,
                   "values": [{"year":2005,"month":10,"date":1,"utc":true},{"year":2005,"month":11,"date":1,"utc":true},{"year":2005,"month":12,"date":1,"utc":true},{"year":2006,"month":1,"date":1,"utc":true},{"year":2006,"month":2,"date":1,"utc":true},{"year":2006,"month":3,"date":1,"utc":true},{"year":2006,"month":4,"date":1,"utc":true},{"year":2006,"month":5,"date":1,"utc":true},{"year":2006,"month":6,"date":1,"utc":true},{"year":2006,"month":7,"date":1,"utc":true},{"year":2006,"month":8,"date":1,"utc":true},{"year":2006,"month":9,"date":1,"utc":true},{"year":2006,"month":10,"date":1,"utc":true},{"year":2006,"month":11,"date":1,"utc":true},{"year":2006,"month":12,"date":1,"utc":true},{"year":2007,"month":1,"date":1,"utc":true},{"year":2007,"month":2,"date":1,"utc":true}],
                   "labelExpr": "utcFormat(datum.value, '%m') == '01' ? utcFormat(datum.value, '%Y') : utcFormat(datum.value, '%B')"}},
    "y": {"field": "vol", "type": "quantitative", "scale": {"domain": [0, 37000]},
          "axis": {"orient": "right", "title": null, "tickCount": 100, "labelOverlap": false, "values": [10000, 20000, 30000], "format": "d", "labelFontSize": 8.5}}}},
  {"data": {"values": [{"title": "Volume (339,176)"}]}, "mark": {"type": "text", "fontSize": 8, "color": "#000000"},
   "encoding": {"text": {"field": "title"},
    "x": {"datum": {"year": 2006, "month": 6, "date": 18, "utc": true}, "type": "temporal", "scale": {"type": "utc", "nice": false, "domain": [{"year": 2005, "month": 10, "date": 1, "utc": true}, {"year": 2007, "month": 2, "date": 25, "hours": 16, "utc": true}]}},
    "y": {"datum": 32000, "type": "quantitative", "scale": {"domain": [0, 37000]}}}}
 ]
}
]
}
